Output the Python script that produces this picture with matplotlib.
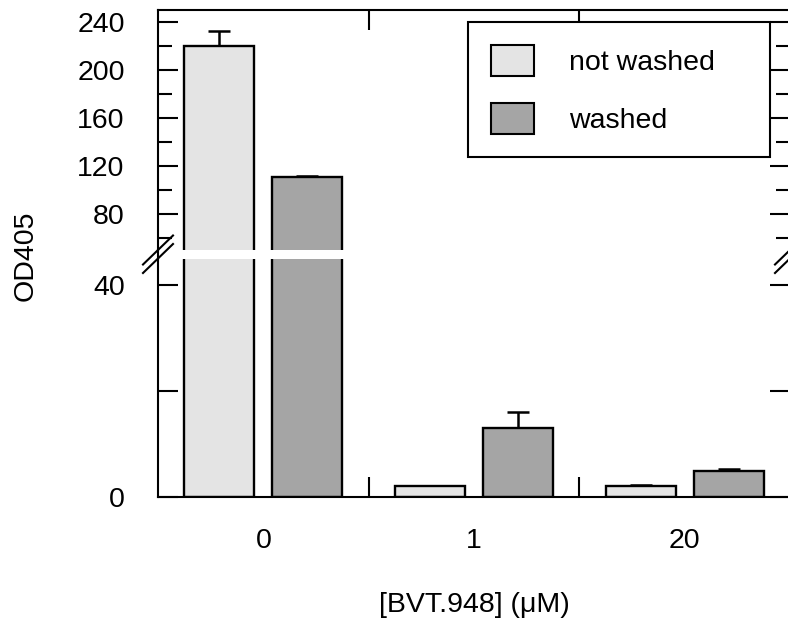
import numpy as np
import matplotlib
matplotlib.use("Agg")
import matplotlib.pyplot as plt
from matplotlib.lines import Line2D
from matplotlib.patches import Patch

# Daten
conc_labels = ["0", "1", "20"]
not_washed = [220, 2, 2]
not_washed_err = [12.5, 0.1, 0.3]
washed = [111, 13, 5]
washed_err = [1, 3, 0.2]

light = "#e4e4e4"
dark = "#a5a5a5"

plt.rcParams["font.family"] = ["Liberation Sans", "DejaVu Sans"]
plt.rcParams["font.size"] = 20.5

W, H = 788, 629
fig = plt.figure(figsize=(W / 100, H / 100), dpi=100)

# Achsen in Pixeln: links 158, rechts 790 (rechter Rand liegt außerhalb des Bildes)
x0, x1 = 158, 790
ax_top = fig.add_axes([x0 / W, 1 - 250 / H, (x1 - x0) / W, 240 / H])
ax_bot = fig.add_axes([x0 / W, 1 - 497 / H, (x1 - x0) / W, 238 / H])

x = np.arange(len(conc_labels))
bw = 0.332
off = 0.209

for ax in (ax_top, ax_bot):
    ax.bar(x - off, not_washed, bw, color=light, edgecolor="black", linewidth=1.7, zorder=2)
    ax.bar(x + off, washed, bw, color=dark, edgecolor="black", linewidth=1.7, zorder=2)
    ax.errorbar(x - off, not_washed, yerr=[np.zeros(3), not_washed_err], fmt="none",
                ecolor="black", elinewidth=1.8, capsize=8, capthick=1.8, zorder=1)
    ax.errorbar(x + off, washed, yerr=[np.zeros(3), washed_err], fmt="none",
                ecolor="black", elinewidth=1.8, capsize=8, capthick=1.8, zorder=1)
    ax.set_xlim(-0.5, 2.5)
    for s in ax.spines.values():
        s.set_linewidth(1.5)
    ax.tick_params(axis="y", which="both", direction="in", left=True, right=True,
                   width=1.5, pad=24)
    ax.tick_params(axis="y", which="major", length=14.4)
    ax.tick_params(axis="y", which="minor", length=10)

ax_top.set_ylim(50, 250)
ax_top.set_yticks([80, 120, 160, 200, 240])
ax_top.set_yticks([60, 100, 140, 180, 220], minor=True)
ax_top.spines["bottom"].set_visible(False)
ax_top.set_xticks([0.5, 1.5])
ax_top.set_xticklabels([])
ax_top.tick_params(axis="x", which="both", bottom=False, top=True, direction="in",
                   length=14.4, width=1.5)

ax_bot.set_ylim(0, 45)
ax_bot.set_yticks([0, 20, 40])
ax_bot.set_yticklabels(["0", "", "40"])
ax_bot.spines["top"].set_visible(False)
ax_bot.set_xticks(x)
ax_bot.set_xticklabels(conc_labels)
ax_bot.set_xticks([0.5, 1.5], minor=True)
ax_bot.tick_params(axis="x", which="major", length=0, pad=22)
ax_bot.tick_params(axis="x", which="minor", direction="in", length=14.4, width=1.5)

# Achsenbruch: Spine durch die Lücke und "//"-Markierungen
for xp in (x0, x1):
    fig.add_artist(Line2D([xp / W, xp / W], [1 - 259 / H, 1 - 250 / H],
                          color="black", lw=1.5, transform=fig.transFigure))
    for yp in (250, 258.5):
        fig.add_artist(Line2D([(xp - 15) / W, (xp + 15) / W],
                              [1 - (yp + 14.5) / H, 1 - (yp - 14.5) / H],
                              color="black", lw=1.5, transform=fig.transFigure))

handles = [Patch(facecolor=light, edgecolor="black", linewidth=1.5),
           Patch(facecolor=dark, edgecolor="black", linewidth=1.5)]
leg = ax_top.legend(handles, ["not washed", "washed"], loc="upper left", mode="expand",
                    bbox_to_anchor=(468 / W, 1 - 156 / H, 302 / W, 134 / H),
                    bbox_transform=fig.transFigure,
                    borderaxespad=0, borderpad=0.8, handlelength=1.51, handleheight=1.3,
                    handletextpad=1.23, labelspacing=0.95, fancybox=False, framealpha=1,
                    edgecolor="black")
leg.get_frame().set_linewidth(1.5)
leg.set_zorder(5)

fig.text(26 / W, 1 - 256 / H, "OD405", rotation=90, ha="center", va="center")
fig.text(474 / W, 1 - 605 / H, "[BVT.948] (μM)", ha="center", va="center")

fig.savefig("out.png", dpi=100)
